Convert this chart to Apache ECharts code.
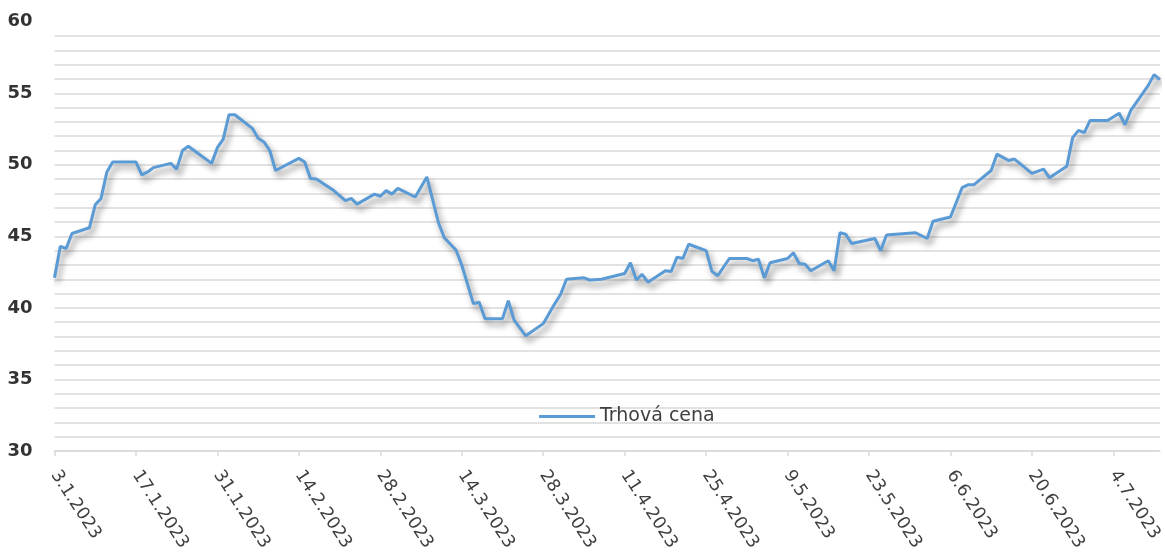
<!DOCTYPE html>
<html>
<head>
<meta charset="utf-8">
<script src="https://cdn.jsdelivr.net/npm/echarts@6/dist/echarts.min.js"></script>
<style>
  html, body { margin: 0; padding: 0; background: #ffffff; }
  #chart { width: 1165px; height: 558px; }
</style>
</head>
<body>
<div id="chart"></div>
<script>
// Axis range (calendar days shown on the date axis)
const startDate = [2023, 1, 3];   // 3.1.2023
const endDate = [2023, 7, 12];    // 12.7.2023

// Series: Trhová cena (dates of readable vertices and their values)
const pointDates = [
  '3.1.2023','4.1.2023','5.1.2023','6.1.2023','9.1.2023','10.1.2023','11.1.2023','12.1.2023','13.1.2023',
  '17.1.2023','18.1.2023','19.1.2023','20.1.2023','23.1.2023','24.1.2023','25.1.2023','26.1.2023','27.1.2023',
  '30.1.2023','31.1.2023','1.2.2023','2.2.2023','3.2.2023','6.2.2023','7.2.2023','8.2.2023','9.2.2023','10.2.2023',
  '14.2.2023','15.2.2023','16.2.2023','17.2.2023','20.2.2023','22.2.2023','23.2.2023','24.2.2023','27.2.2023','28.2.2023',
  '1.3.2023','2.3.2023','3.3.2023','6.3.2023','8.3.2023','10.3.2023','11.3.2023','13.3.2023','14.3.2023','16.3.2023',
  '17.3.2023','18.3.2023','21.3.2023','22.3.2023','23.3.2023','25.3.2023','28.3.2023','30.3.2023','31.3.2023','1.4.2023',
  '4.4.2023','5.4.2023','7.4.2023','11.4.2023','12.4.2023','13.4.2023','14.4.2023','15.4.2023','18.4.2023','19.4.2023',
  '20.4.2023','21.4.2023','22.4.2023','25.4.2023','26.4.2023','27.4.2023','29.4.2023','2.5.2023','3.5.2023','4.5.2023',
  '5.5.2023','6.5.2023','9.5.2023','10.5.2023','11.5.2023','12.5.2023','13.5.2023','16.5.2023','17.5.2023','18.5.2023',
  '19.5.2023','20.5.2023','24.5.2023','25.5.2023','26.5.2023','31.5.2023','2.6.2023','3.6.2023','6.6.2023','8.6.2023',
  '9.6.2023','10.6.2023','13.6.2023','14.6.2023','16.6.2023','17.6.2023','20.6.2023','22.6.2023','23.6.2023','26.6.2023',
  '27.6.2023','28.6.2023','29.6.2023','30.6.2023','3.7.2023','5.7.2023','6.7.2023','7.7.2023','10.7.2023','11.7.2023','12.7.2023'
];
const pointValues = [
  42.1, 44.3, 44.15, 45.2, 45.6, 47.2, 47.65, 49.5, 50.2,
  50.2, 49.3, 49.5, 49.8, 50.1, 49.7, 51.0, 51.3, 51.0,
  50.1, 51.2, 51.8, 53.5, 53.5, 52.55, 51.85, 51.6, 51.0, 49.6,
  50.45, 50.2, 49.05, 49.0, 48.2, 47.5, 47.65, 47.25, 47.95, 47.8,
  48.2, 47.95, 48.35, 47.75, 49.15, 45.95, 44.9, 44.05, 43.0, 40.3,
  40.4, 39.25, 39.25, 40.5, 39.15, 38.05, 38.9, 40.3, 40.95, 42.0,
  42.1, 41.95, 42.0, 42.4, 43.15, 41.95, 42.35, 41.8, 42.6, 42.55,
  43.55, 43.45, 44.45, 44.0, 42.55, 42.25, 43.45, 43.45, 43.3, 43.4,
  42.1, 43.15, 43.45, 43.85, 43.1, 43.05, 42.6, 43.3, 42.6, 45.25,
  45.15, 44.5, 44.85, 44.0, 45.1, 45.25, 44.85, 46.05, 46.35, 48.4,
  48.6, 48.6, 49.6, 50.75, 50.3, 50.4, 49.4, 49.7, 49.1, 49.9,
  51.9, 52.4, 52.25, 53.1, 53.1, 53.6, 52.8, 53.8, 55.55, 56.3, 55.95
];

const seriesName = 'Trhová cena';
const yTickValues = [30, 35, 40, 45, 50, 55, 60];

// Build the calendar-day category list for the date axis
function fmt(d) { return d.getUTCDate() + '.' + (d.getUTCMonth() + 1) + '.' + d.getUTCFullYear(); }
const categories = [];
{
  let d = new Date(Date.UTC(startDate[0], startDate[1] - 1, startDate[2]));
  const e = new Date(Date.UTC(endDate[0], endDate[1] - 1, endDate[2]));
  while (d <= e) { categories.push(fmt(d)); d = new Date(d.getTime() + 86400000); }
}
const valueMap = {};
pointDates.forEach((k, i) => { valueMap[k] = pointValues[i]; });
const seriesData = categories.map(c => (c in valueMap ? valueMap[c] : null));

const chart = echarts.init(document.getElementById('chart'), null, { renderer: 'canvas' });
chart.setOption({
  backgroundColor: '#ffffff',
  animation: false,
  grid: { left: 54.5, right: 2, top: 21.7, bottom: 107, containLabel: false },
  legend: {
    data: [{ name: seriesName, icon: 'rect' }],
    left: 534, top: 402,
    itemWidth: 56, itemHeight: 3,
    textStyle: { fontFamily: 'DejaVu Sans', fontSize: 19, color: '#404040' }
  },
  xAxis: {
    type: 'category',
    data: categories,
    boundaryGap: false,
    axisLine: { show: true, lineStyle: { color: '#d9d9d9', width: 1.5 } },
    axisTick: { show: true, interval: 13, length: 5, lineStyle: { color: '#d9d9d9', width: 1.5 } },
    axisLabel: {
      interval: 13, rotate: -57, margin: 21,
      fontFamily: 'DejaVu Sans', fontSize: 17.5, color: '#404040'
    },
    splitLine: { show: false }
  },
  yAxis: {
    type: 'value',
    min: 30, max: 60, interval: 1,
    axisLine: { show: false },
    axisTick: { show: false },
    axisLabel: {
      margin: 22,
      fontFamily: 'DejaVu Sans', fontSize: 18, fontWeight: 'bold', color: '#333333',
      formatter: v => (yTickValues.indexOf(v) >= 0 ? String(v) : '')
    },
    splitLine: { show: true, showMaxLine: false, lineStyle: { color: '#d9d9d9', width: 1.5 } }
  },
  series: [{
    name: seriesName,
    type: 'line',
    data: seriesData,
    connectNulls: true,
    symbol: 'none',
    smooth: false,
    lineStyle: {
      color: '#5b9bd5', width: 3,
      shadowColor: 'rgba(0,0,0,0.45)', shadowBlur: 6, shadowOffsetX: 3, shadowOffsetY: 5
    },
    itemStyle: { color: '#5b9bd5' }
  }]
});
</script>
</body>
</html>
